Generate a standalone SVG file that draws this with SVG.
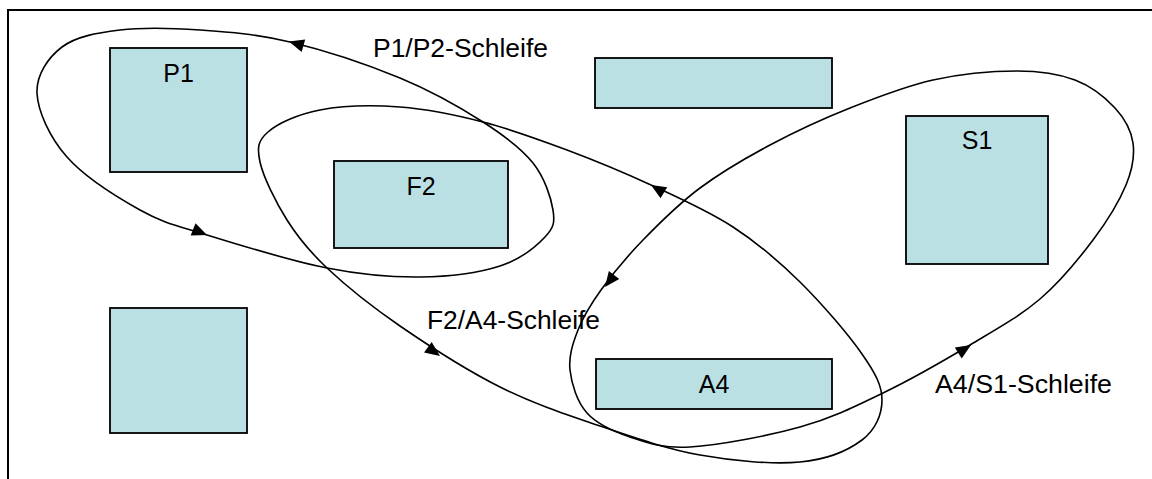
<svg xmlns="http://www.w3.org/2000/svg" width="1152" height="479" viewBox="0 0 1152 479">
  <style>
    .box { fill: #bbe0e3; stroke: #000; stroke-width: 1.8; }
    .lbl { font-family: "Liberation Sans", Arial, sans-serif; font-size: 25px; fill: #000; }
    .mid { text-anchor: middle; }
    .loop { fill: none; stroke: #000; stroke-width: 1.6; }
    .frame { fill: none; stroke: #000; stroke-width: 2; }
  </style>
  <defs>
    <!-- filled arrowhead, tip at the origin, pointing along +x -->
    <path id="ah" d="M0,0 L-15,-6.5 L-15,6.5 Z" fill="#000"/>
  </defs>

  <rect width="1152" height="479" fill="#fff"/>
  <path class="frame" d="M8,480 V10 H1153"/>

  <!-- nodes -->
  <g id="node-p1">
    <rect class="box" x="110" y="48" width="137" height="124"/>
    <text class="lbl mid" x="178.5" y="82">P1</text>
  </g>
  <g id="node-f2">
    <rect class="box" x="334" y="161" width="174" height="87"/>
    <text class="lbl mid" x="421" y="195">F2</text>
  </g>
  <g id="node-top">
    <rect class="box" x="595" y="58" width="237" height="50"/>
  </g>
  <g id="node-s1">
    <rect class="box" x="906" y="116" width="142" height="148"/>
    <text class="lbl mid" x="977" y="149">S1</text>
  </g>
  <g id="node-left">
    <rect class="box" x="110" y="308" width="137" height="125"/>
  </g>
  <g id="node-a4">
    <rect class="box" x="596" y="359" width="236" height="50"/>
    <text class="lbl mid" x="714" y="393">A4</text>
  </g>

  <!-- connectors: three closed loops with direction arrows -->
  <g id="connectors">
    <g id="loop-p1-p2">
      <path class="loop" d="M553,210 C551,197.7 544.7,177.7 533,163 C521.3,148.3 505.2,136.2 483,122 C460.8,107.8 432.2,91.3 400,78 C367.8,64.7 323.3,50 290,42 C256.7,34 228.3,32 200,30 C171.7,28 143,27.2 120,30 C97,32.8 75.8,36.5 62,47 C48.2,57.5 36.2,74.7 37,93 C37.8,111.3 49.8,137.5 67,157 C84.2,176.5 116.7,197 140,210 C163.3,223 175.8,225.3 207,235 C238.2,244.7 291.5,261 327,268 C362.5,275 391.2,277.3 420,277 C448.8,276.7 479.2,272.7 500,266 C520.8,259.3 536.2,246.3 545,237 C553.8,227.7 555,222.3 553,210 Z"/>
      <use href="#ah" transform="translate(289,41.5) rotate(196)"/>
      <use href="#ah" transform="translate(207,235) rotate(22)"/>
      <text class="lbl" x="373" y="57" textLength="175" lengthAdjust="spacingAndGlyphs">P1/P2-Schleife</text>
    </g>
    <g id="loop-f2-a4">
      <path class="loop" d="M882,400 C882,385.7 875.7,373.7 862,354 C848.3,334.3 821.5,303.2 800,282 C778.5,260.8 757.8,243.2 733,227 C708.2,210.8 678.7,197.8 651,185 C623.3,172.2 595,160.5 567,150 C539,139.5 510.8,129.2 483,122 C455.2,114.8 427.2,109 400,107 C372.8,105 342,105.8 320,110 C298,114.2 278,123.3 268,132 C258,140.7 256.8,147.3 260,162 C263.2,176.7 275.8,202.3 287,220 C298.2,237.7 308.2,250.3 327,268 C345.8,285.7 371.2,306.2 400,326 C428.8,345.8 466.7,370.3 500,387 C533.3,403.7 566.7,414.7 600,426 C633.3,437.3 666.7,449 700,455 C733.3,461 773,464.5 800,462 C827,459.5 848.3,450.3 862,440 C875.7,429.7 882,414.3 882,400 Z"/>
      <use href="#ah" transform="translate(651,185) rotate(211)"/>
      <use href="#ah" transform="translate(440,356) rotate(36)"/>
      <text class="lbl" x="427" y="329" textLength="173" lengthAdjust="spacingAndGlyphs">F2/A4-Schleife</text>
    </g>
    <g id="loop-a4-s1">
      <path class="loop" d="M1133,143 C1131.2,130.2 1124.7,118.5 1115,108 C1105.3,97.5 1091.3,86.2 1075,80 C1058.7,73.8 1040.7,71 1017,71 C993.3,71 960.8,73.8 933,80 C905.2,86.2 877.2,97.2 850,108 C822.8,118.8 795,131.7 770,145 C745,158.3 721.2,172.2 700,188 C678.8,203.8 659.5,223 643,240 C626.5,257 611.8,275 601,290 C590.2,305 583.2,316.7 578,330 C572.8,343.3 568.5,356.2 570,370 C571.5,383.8 577,401.8 587,413 C597,424.2 612.8,431.3 630,437 C647.2,442.7 661.7,448.7 690,447 C718.3,445.3 767.8,436 800,427 C832.2,418 854.7,406.7 883,393 C911.3,379.3 943.8,360.7 970,345 C996.2,329.3 1019.5,316.5 1040,299 C1060.5,281.5 1078.7,259 1093,240 C1107.3,221 1119.3,201.2 1126,185 C1132.7,168.8 1134.8,155.8 1133,143 Z"/>
      <use href="#ah" transform="translate(605,287) rotate(127)"/>
      <use href="#ah" transform="translate(971,345) rotate(-32)"/>
      <text class="lbl" x="935" y="393" textLength="177" lengthAdjust="spacingAndGlyphs">A4/S1-Schleife</text>
    </g>
  </g>
</svg>
